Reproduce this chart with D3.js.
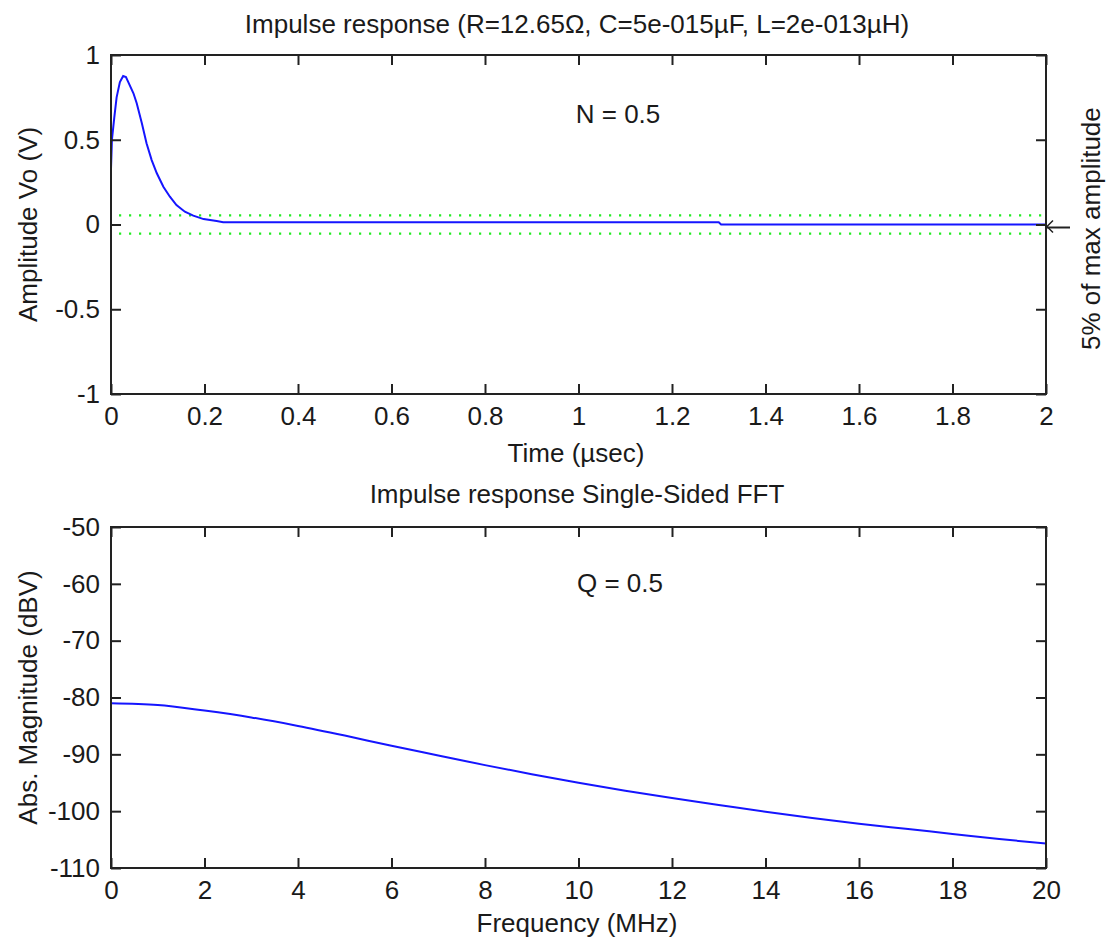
<!DOCTYPE html>
<html>
<head>
<meta charset="utf-8">
<script src="https://cdn.jsdelivr.net/npm/d3@7"></script>
<style>
  html, body { margin: 0; padding: 0; background: #fff; }
  svg { display: block; }
  text { font-family: "Liberation Sans", Arial, sans-serif; fill: #1a1a1a; }
</style>
</head>
<body>
<svg id="chart" width="1109" height="939"></svg>
<script>
// ---------- Data ----------
const timeUs = [0, 0.002, 0.007, 0.012, 0.019, 0.026, 0.032, 0.037, 0.048, 0.055, 0.066, 0.076, 0.087, 0.098, 0.112, 0.126, 0.14, 0.158, 0.176, 0.198, 0.226, 0.24, 1.30, 1.305, 2.0];
const amplitudeV = [0.33, 0.50, 0.63, 0.75, 0.84, 0.876, 0.87, 0.84, 0.774, 0.715, 0.597, 0.479, 0.38, 0.302, 0.223, 0.164, 0.115, 0.0755, 0.052, 0.032, 0.02, 0.013, 0.013, 0.0, 0.0];
const thresholdTime = [0, 2];
const thresholdLevel = 0.054;

const freqMHz = [0, 1, 2, 3, 4, 5, 6, 7, 8, 9, 10, 11, 12, 13, 14, 15, 16, 17, 18, 19, 20];
const magnitudeDBV = [-81.0, -81.3, -82.3, -83.5, -85.0, -86.7, -88.5, -90.2, -91.9, -93.5, -95.0, -96.4, -97.7, -98.9, -100.1, -101.2, -102.2, -103.1, -104.0, -104.9, -105.7];

const timeTicks = [0, 0.2, 0.4, 0.6, 0.8, 1, 1.2, 1.4, 1.6, 1.8, 2];
const ampTicks = [-1, -0.5, 0, 0.5, 1];
const freqTicks = [0, 2, 4, 6, 8, 10, 12, 14, 16, 18, 20];
const magTicks = [-110, -100, -90, -80, -70, -60, -50];

const topTitle = "Impulse response (R=12.65\u03A9, C=5e-015\u00B5F, L=2e-013\u00B5H)";
const bottomTitle = "Impulse response Single-Sided FFT";

// ---------- Layout ----------
const svg = d3.select("#chart");
const FONT = 26;
const L = 111, R = 1046;
const top1 = 55, bot1 = 394;
const top2 = 527, bot2 = 868;
const TICK = 10;

function drawAxes(x, y, xt, yt, top, bot) {
  const g = svg.append("g");
  const fmt = d => String(d);
  const bx = g.append("g").attr("transform", `translate(0,${bot})`)
    .call(d3.axisBottom(x).tickValues(xt).tickFormat(fmt).tickSize(-TICK).tickSizeOuter(0).tickPadding(13));
  const tx = g.append("g").attr("transform", `translate(0,${top})`)
    .call(d3.axisTop(x).tickValues(xt).tickFormat("").tickSize(-TICK).tickSizeOuter(0));
  const ly = g.append("g").attr("transform", `translate(${L},0)`)
    .call(d3.axisLeft(y).tickValues(yt).tickFormat(fmt).tickSize(-TICK).tickSizeOuter(0).tickPadding(11));
  const ry = g.append("g").attr("transform", `translate(${R},0)`)
    .call(d3.axisRight(y).tickValues(yt).tickFormat("").tickSize(-TICK).tickSizeOuter(0));
  [bx, tx, ly, ry].forEach(a => {
    a.select(".domain").remove();
    a.selectAll(".tick line").attr("stroke", "#222").attr("stroke-width", 2);
    a.selectAll(".tick text").attr("font-size", FONT).attr("font-family", "Liberation Sans, Arial, sans-serif").attr("fill", "#1a1a1a");
  });
  g.append("rect").attr("x", L).attr("y", top).attr("width", R - L).attr("height", bot - top)
    .attr("fill", "none").attr("stroke", "#222").attr("stroke-width", 2);
  return g;
}

// ---------- Upper plot ----------
const x1 = d3.scaleLinear().domain([0, 2]).range([L, R]);
const y1 = d3.scaleLinear().domain([-1, 1]).range([bot1, top1]);

[thresholdLevel, -thresholdLevel].forEach(lv => {
  svg.append("path")
    .attr("d", d3.line().x(d => x1(d)).y(() => y1(lv))(thresholdTime))
    .attr("fill", "none").attr("stroke", "#22ee22").attr("stroke-width", 2.2)
    .attr("stroke-dasharray", "2.2,7.8").attr("stroke-dashoffset", -8);
});

svg.append("path")
  .attr("d", d3.line().x((d, i) => x1(timeUs[i])).y(d => y1(d))(amplitudeV))
  .attr("fill", "none").attr("stroke", "#1515ff").attr("stroke-width", 2);

drawAxes(x1, y1, timeTicks, ampTicks, top1, bot1);

svg.append("text").attr("x", 577).attr("y", 33).attr("text-anchor", "middle").attr("font-size", FONT).text(topTitle);
svg.append("text").attr("x", 576).attr("y", 462).attr("text-anchor", "middle").attr("font-size", FONT).text("Time (\u00B5sec)");
svg.append("text").attr("transform", `translate(37,${(top1 + bot1) / 2}) rotate(-90)`)
  .attr("text-anchor", "middle").attr("font-size", FONT).text("Amplitude Vo (V)");
svg.append("text").attr("x", 618).attr("y", 123).attr("text-anchor", "middle").attr("font-size", FONT).text("N = 0.5");

// annotation arrow
const ay = y1(0);
svg.append("line").attr("x1", R + 1).attr("y1", ay + 3).attr("x2", 1070).attr("y2", ay + 3)
  .attr("stroke", "#222").attr("stroke-width", 2);
svg.append("path").attr("d", `M${R + 7},${ay - 4} L${R + 1},${ay + 2} L${R + 7},${ay + 8}`)
  .attr("fill", "none").attr("stroke", "#222").attr("stroke-width", 1.5);
svg.append("text").attr("transform", `translate(1100,350) rotate(-90)`)
  .attr("text-anchor", "start").attr("font-size", FONT).text("5% of max amplitude");

// ---------- Lower plot ----------
const x2 = d3.scaleLinear().domain([0, 20]).range([L, R]);
const y2 = d3.scaleLinear().domain([-110, -50]).range([bot2, top2]);

svg.append("path")
  .attr("d", d3.line().x((d, i) => x2(freqMHz[i])).y(d => y2(d)).curve(d3.curveMonotoneX)(magnitudeDBV))
  .attr("fill", "none").attr("stroke", "#1515ff").attr("stroke-width", 2);

drawAxes(x2, y2, freqTicks, magTicks, top2, bot2);

svg.append("text").attr("x", 577).attr("y", 503).attr("text-anchor", "middle").attr("font-size", FONT).text(bottomTitle);
svg.append("text").attr("x", 577).attr("y", 932).attr("text-anchor", "middle").attr("font-size", FONT).text("Frequency (MHz)");
svg.append("text").attr("transform", `translate(37,${(top2 + bot2) / 2}) rotate(-90)`)
  .attr("text-anchor", "middle").attr("font-size", FONT).text("Abs. Magnitude (dBV)");
svg.append("text").attr("x", 620).attr("y", 592).attr("text-anchor", "middle").attr("font-size", FONT).text("Q = 0.5");
</script>
</body>
</html>
